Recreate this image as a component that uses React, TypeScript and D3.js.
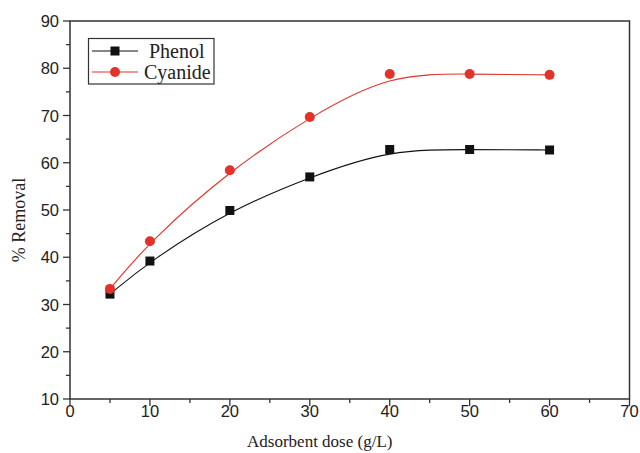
import React from "react";
import * as d3 from "d3";

const doses = [5, 10, 20, 30, 40, 50, 60];
const phenol = [32.2, 39.2, 49.9, 57.0, 62.8, 62.8, 62.7];
const cyanide = [33.3, 43.4, 58.4, 69.7, 78.8, 78.8, 78.6];
const xTicks = [0, 10, 20, 30, 40, 50, 60, 70];
const yTicks = [10, 20, 30, 40, 50, 60, 70, 80, 90];
const xMinor = [5, 15, 25, 35, 45, 55, 65];
const yMinor = [15, 25, 35, 45, 55, 65, 75, 85];

const W = 640, H = 453;
const L = 70, R = 629.5, T = 21, B = 399;
const RED = "#e2322a";
const AX = "#333";

export default function App() {
  const x = d3.scaleLinear().domain([0, 70]).range([L, R]);
  const y = d3.scaleLinear().domain([10, 90]).range([B, T]);
  const line = d3
    .line<number>()
    .x((_, i) => x(doses[i]))
    .y((v) => y(v))
    .curve(d3.curveBasis);
  const sans = "'Liberation Sans', Arial, sans-serif";
  const serif = "'Liberation Serif', 'Times New Roman', serif";
  return (
    <svg width={W} height={H} style={{ position: "absolute", left: 0, top: 0, background: "#fff" }}>
      <rect x={0} y={0} width={W} height={H} fill="#fff" />
      {/* frame */}
      <rect x={L} y={T} width={R - L} height={B - T} fill="none" stroke={AX} strokeWidth={1.5} />
      {/* x ticks */}
      {xTicks.map((t) => (
        <g key={"x" + t}>
          <line x1={x(t)} x2={x(t)} y1={B} y2={B + 7} stroke={AX} strokeWidth={1.3} />
          <text x={x(t)} y={417} textAnchor="middle" fontFamily={sans} fontSize={16.5} fill="#222">
            {t}
          </text>
        </g>
      ))}
      {xMinor.map((t) => (
        <line key={"xm" + t} x1={x(t)} x2={x(t)} y1={B} y2={B + 4} stroke={AX} strokeWidth={1.3} />
      ))}
      {/* y ticks */}
      {yTicks.map((t) => (
        <g key={"y" + t}>
          <line x1={L - 7} x2={L} y1={y(t)} y2={y(t)} stroke={AX} strokeWidth={1.3} />
          <text x={59} y={y(t) + 6} textAnchor="end" fontFamily={sans} fontSize={16.5} fill="#222">
            {t}
          </text>
        </g>
      ))}
      {yMinor.map((t) => (
        <line key={"ym" + t} x1={L - 4} x2={L} y1={y(t)} y2={y(t)} stroke={AX} strokeWidth={1.3} />
      ))}
      {/* axis titles */}
      <text x={(L + R) / 2 - 30} y={447} textAnchor="middle" fontFamily={serif} fontSize={17} fill="#222">
        Adsorbent dose (g/L)
      </text>
      <text
        transform={`translate(25,${220}) rotate(-90)`}
        textAnchor="middle"
        fontFamily={serif}
        fontSize={18}
        fill="#222"
      >
        % Removal
      </text>
      {/* lines */}
      <path d={line(phenol) || ""} fill="none" stroke="#111" strokeWidth={1.1} />
      <path d={line(cyanide) || ""} fill="none" stroke={RED} strokeWidth={1.1} />
      {/* markers */}
      {phenol.map((v, i) => (
        <rect key={"p" + i} x={x(doses[i]) - 4.5} y={y(v) - 4.5} width={9} height={9} fill="#111" />
      ))}
      {cyanide.map((v, i) => (
        <circle key={"c" + i} cx={x(doses[i])} cy={y(v)} r={5} fill={RED} />
      ))}
      {/* legend */}
      <rect x={88.5} y={38.5} width={125.5} height={45.5} fill="#fff" stroke={AX} strokeWidth={1.2} />
      <line x1={92} x2={138} y1={51} y2={51} stroke="#111" strokeWidth={1.1} />
      <rect x={110.5} y={46.5} width={9} height={9} fill="#111" />
      <text x={149} y={58} fontFamily={serif} fontSize={20} fill="#222">
        Phenol
      </text>
      <line x1={92} x2={138} y1={72} y2={72} stroke={RED} strokeWidth={1.1} />
      <circle cx={115} cy={72} r={5} fill={RED} />
      <text x={144} y={79} fontFamily={serif} fontSize={20} fill="#222">
        Cyanide
      </text>
    </svg>
  );
}
